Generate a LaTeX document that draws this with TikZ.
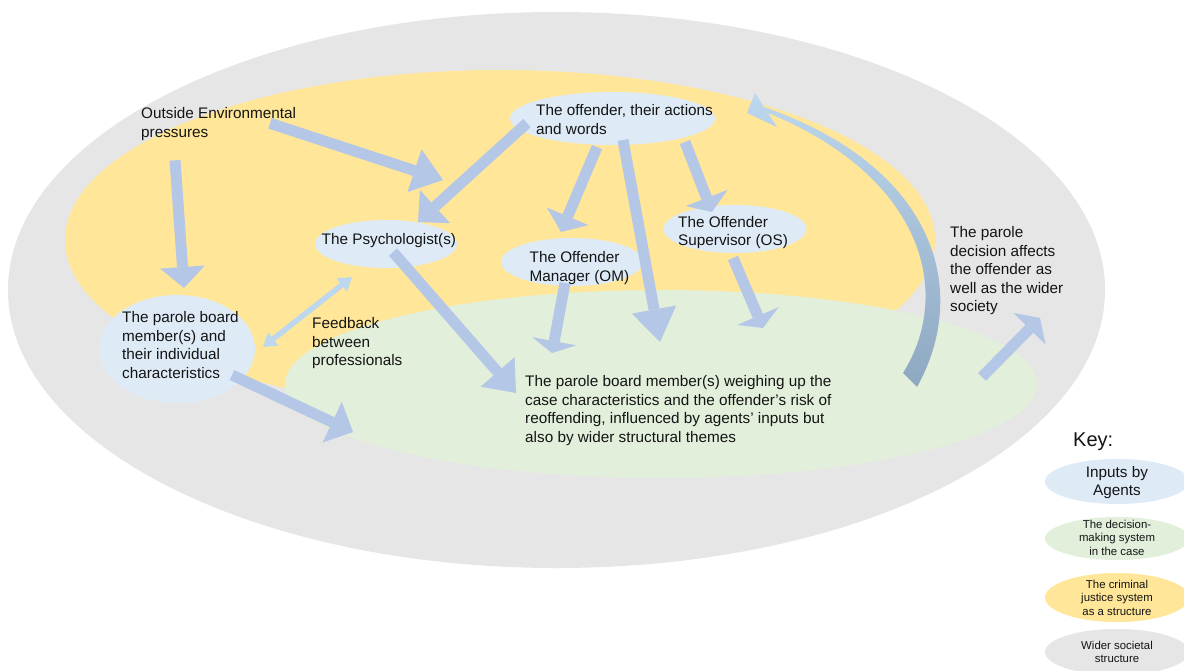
\documentclass[tikz,border=0pt]{standalone}
\usepackage{fontspec}
\setmainfont{Liberation Sans}
\usetikzlibrary{arrows.meta,calc,shapes.geometric}

\definecolor{society}{HTML}{E6E6E6}
\definecolor{justice}{HTML}{FFE699}
\definecolor{decision}{HTML}{E2EFDA}
\definecolor{agent}{HTML}{DEEBF7}
\definecolor{flowblue}{HTML}{B4C7E7}
\definecolor{feedblue}{HTML}{BDD7EE}
\definecolor{loopbot}{HTML}{8EA8C2}
\definecolor{ink}{HTML}{141414}

\begin{document}
\begin{tikzpicture}[x=1pt,y=-1pt,
  region/.style={ellipse, inner sep=0pt, draw=none},
  agentE/.style={ellipse, fill=agent, inner sep=0pt},
  lbl/.style={anchor=north west, inner sep=0pt, align=left, text=ink,
    font=\fontsize{15.3}{18.5}\selectfont},
  keylbl/.style={anchor=north, inner sep=0pt, align=center, text=ink,
    font=\fontsize{11.4}{13.7}\selectfont},
  flow/.style={line width=11pt, draw=flowblue,
    -{Triangle[width=45pt,length=#1pt,line width=0pt]}},
  feedback/.style={line width=5.5pt, draw=feedblue,
    {Triangle[width=17pt,length=13pt,line width=0pt]}-{Triangle[width=17pt,length=13pt,line width=0pt]}}
]
\useasboundingbox (0,0) rectangle (1184,670);
\fill[white] (0,0) rectangle (1184,670);

% nested structures
\node[region, fill=society, minimum width=1097pt, minimum height=556pt] (wider) at (556.5,290) {};
\node[region, fill=justice, minimum width=870pt, minimum height=340pt] (cjs) at (500,240) {};
\node[region, fill=decision, minimum width=752pt, minimum height=188pt] (dms) at (661,384) {};

% key
\node[anchor=north west, inner sep=0pt, text=ink, font=\fontsize{20}{24}\selectfont] (keyT) at (1073,432.6) {Key:};
\node[region, fill=agent, minimum width=144pt, minimum height=45pt] (kAgent) at (1117,481.5) {};
\node[region, fill=decision, minimum width=144pt, minimum height=43pt] (kDecision) at (1117,538.5) {};
\node[region, fill=justice, minimum width=144pt, minimum height=49pt] (kJustice) at (1117,597.5) {};
\node[region, fill=society, minimum width=144pt, minimum height=46pt] (kSociety) at (1117,652) {};
\node[keylbl, font=\fontsize{15.3}{18}\selectfont] (kAgentT) at (1117,466.3) {Inputs by\\Agents};
\node[keylbl] (kDecisionT) at (1117,519.8) {The decision-\\making system\\in the case};
\node[keylbl] (kJusticeT) at (1117,579.8) {The criminal\\justice system\\as a structure};
\node[keylbl] (kSocietyT) at (1117,640.8) {Wider societal\\structure};

% agents
\node[agentE, minimum width=205pt, minimum height=53pt] (offE) at (612.5,118.5) {};
\node[agentE, minimum width=142pt, minimum height=48pt] (psyE) at (386,244) {};
\node[agentE, minimum width=142pt, minimum height=48pt] (omE) at (572,262) {};
\node[agentE, minimum width=143pt, minimum height=48pt] (osE) at (735,229) {};
\node[agentE, minimum width=156pt, minimum height=108pt] (boardE) at (177,349) {};

% labels
\node[lbl] (env) at (141,107.3) {Outside Environmental\\pressures};
\node[lbl] (offT) at (536,104.3) {The offender, their actions\\and words};
\node[lbl] (psyT) at (321.5,233.3) {The Psychologist(s)};
\node[lbl] (omT) at (529.5,251.3) {The Offender\\Manager (OM)};
\node[lbl] (osT) at (678,215.8) {The Offender\\Supervisor (OS)};
\node[lbl] (boardT) at (122,311.3) {The parole board\\member(s) and\\their individual\\characteristics};
\node[lbl] (fbT) at (312,317.3) {Feedback\\between\\professionals};
\node[lbl] (effT) at (950,226.3) {The parole\\decision affects\\the offender as\\well as the wider\\society};
\node[lbl] (centT) at (525,375.3) {The parole board member(s) weighing up the\\case characteristics and the offender’s risk of\\reoffending, influenced by agents’ inputs but\\also by wider structural themes};

% influences
\draw[flow=21] ($(env.north west)+(34,53)$) -- ($(boardE.center)+(7,-61)$);
\draw[flow=30] ($(env.north west)+(129,16)$) -- ($(psyE.center)+(57,-64)$);
\draw[flow=23] ($(offE.center)+(-85.5,4.5)$) -- ($(psyE.center)+(32,-22)$);
\draw[flow=17] ($(offE.center)+(-15.5,28.5)$) -- ($(omE.center)+(-11,-30)$);
\draw[flow=33] ($(offE.center)+(10.5,21.5)$) -- ($(dms.center)+(-1,-42)$);
\draw[flow=15] ($(offE.center)+(72.5,23.5)$) -- ($(osE.center)+(-23,-17)$);
\draw[flow=13] ($(osE.center)+(-2,29)$) -- ($(dms.center)+(102,-56)$);
\draw[flow=12] ($(omE.center)+(-7,21)$) -- ($(dms.center)+(-109,-31)$);
\draw[flow=28] ($(psyE.center)+(7,8)$) -- ($(dms.center)+(-145,9)$);
\draw[flow=23] ($(boardE.center)+(55,26)$) -- ($(dms.center)+(-308,48)$);
\draw[feedback] ($(boardE.center)+(86,-2)$) -- ($(psyE.center)+(-34,33)$);
\coordinate (outward) at (1040,318);
\draw[flow=15] ($(dms.center)+(321,-7)$) -- (outward);

% decision feeding back to the offender
\shade[top color=feedblue, bottom color=loopbot]
  (747,113) -- (755,93) -- (764,107)
  .. controls (938,168) and (970,292) .. (917,387)
  -- (903,373)
  .. controls (955,290) and (920,175) .. (768,113)
  -- (777,127) -- cycle;
\end{tikzpicture}
\end{document}
